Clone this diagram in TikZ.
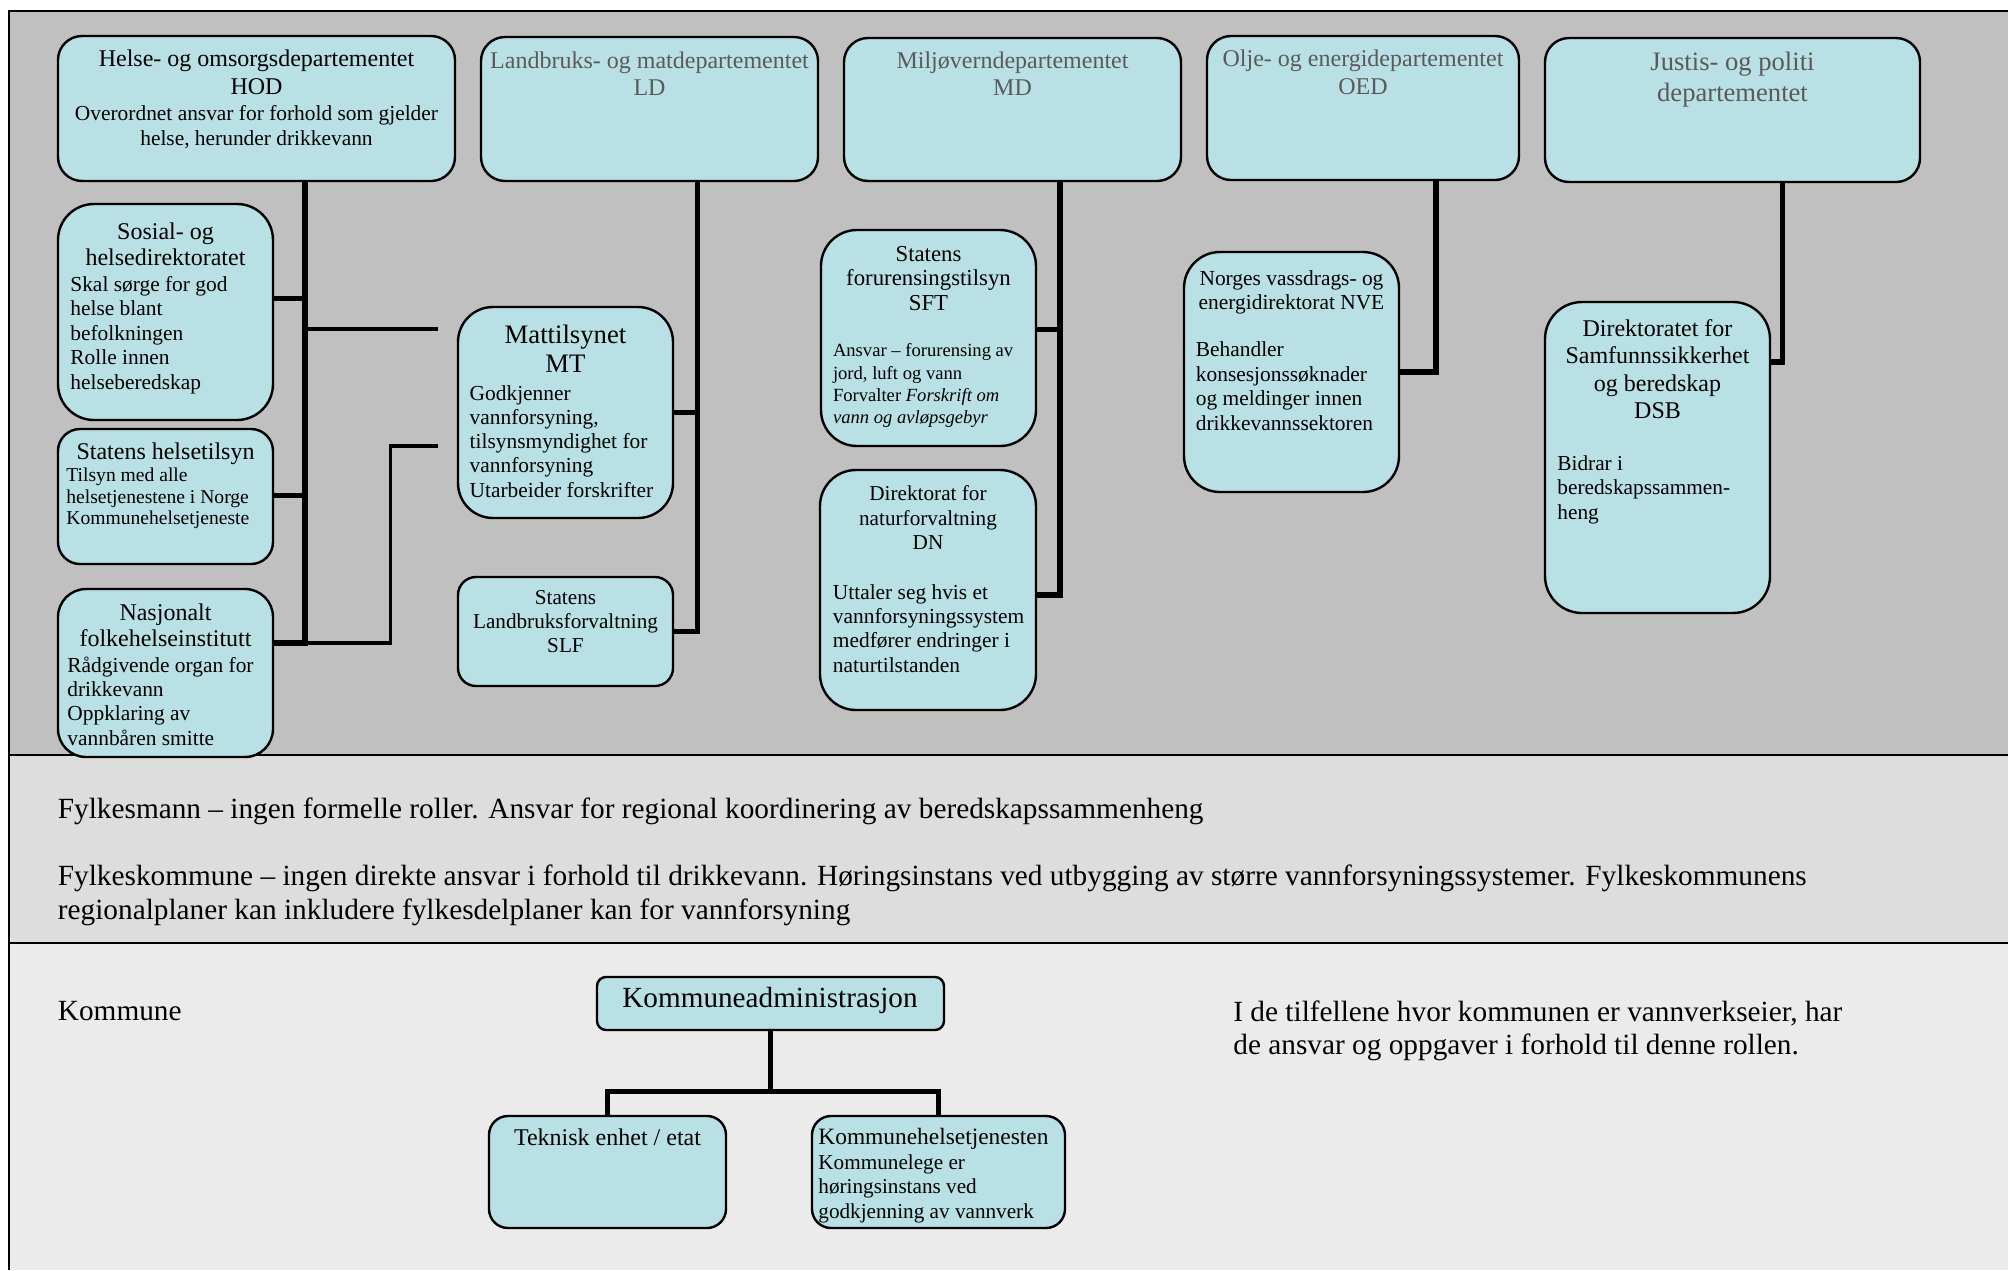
\documentclass[tikz,border=0pt]{standalone}
\usepackage{fontspec}
\setmainfont{Liberation Serif}
\usetikzlibrary{fit}
\definecolor{bandA}{RGB}{192,192,192}
\definecolor{bandB}{RGB}{221,221,221}
\definecolor{bandC}{RGB}{235,235,235}
\definecolor{boxfill}{RGB}{185,224,228}
\definecolor{depgray}{RGB}{90,90,90}
\newcommand\fz[2]{\fontsize{#1}{#2}\selectfont}
\pgfdeclarelayer{bg}
\pgfdeclarelayer{lines}
\pgfsetlayers{bg,lines,main}
\begin{document}
\begin{tikzpicture}[x=0.5pt,y=-0.5pt,
  orgbox/.style={draw=black, line width=1.2pt, fill=boxfill, inner sep=0pt},
  conn/.style={line width=2.75pt, line cap=rect, line join=miter},
  connthin/.style={line width=1.9pt, line join=miter},
  ctext/.style={inner sep=0pt, anchor=base, align=center},
  ltext/.style={inner sep=0pt, anchor=base west, align=left},
  frameline/.style={line width=1.1pt}]
\useasboundingbox (0,0) rectangle (2008,1270);

% boxes
\node[orgbox, rounded corners=12pt, fit={(58,36) (455,181)}] (hod) {};
\node[orgbox, rounded corners=12pt, fit={(481,37) (818,181)}] (ld) {};
\node[orgbox, rounded corners=12pt, fit={(844,38) (1181,181)}] (md) {};
\node[orgbox, rounded corners=12pt, fit={(1207,36) (1519,180)}] (oed) {};
\node[orgbox, rounded corners=12pt, fit={(1545,38) (1920,182)}] (jus) {};
\node[orgbox, rounded corners=18pt, fit={(58,204) (273,420)}] (sos) {};
\node[orgbox, rounded corners=11pt, fit={(58,429) (273,564)}] (htil) {};
\node[orgbox, rounded corners=14pt, fit={(58,589) (273,757)}] (fhi) {};
\node[orgbox, rounded corners=17.5pt, fit={(458,307) (673,518)}] (mt) {};
\node[orgbox, rounded corners=9pt, fit={(458,577) (673,686)}] (slf) {};
\node[orgbox, rounded corners=18pt, fit={(821,230) (1036,446)}] (sft) {};
\node[orgbox, rounded corners=18pt, fit={(820,470) (1036,710)}] (dn) {};
\node[orgbox, rounded corners=18pt, fit={(1184,252) (1399,492)}] (nve) {};
\node[orgbox, rounded corners=18.5pt, fit={(1545,302) (1770,613)}] (dsb) {};
\node[orgbox, rounded corners=4.5pt, fit={(597,977) (944,1030)}] (kadm) {};
\node[orgbox, rounded corners=9.5pt, fit={(489,1116) (726,1228)}] (tek) {};
\node[orgbox, rounded corners=9.5pt, fit={(812,1116) (1065,1228)}] (khel) {};

% bands and frame
\begin{pgfonlayer}{bg}
\fill[bandA] (9,10.7) rectangle (2008,755);
\fill[bandB] (9,755) rectangle (2008,943);
\fill[bandC] (9,943) rectangle (2008,1270);
\draw[frameline] (2008,10.7) -- (9,10.7) -- (9,1270);
\draw[frameline] (9,755) -- (2008,755);
\draw[frameline] (9,943) -- (2008,943);
\end{pgfonlayer}

% connectors
\coordinate (jSos) at (305,298.7);
\coordinate (jHt) at (305,495.5);
\coordinate (jFhi) at (305,643);
\coordinate (jMtA) at (305,329.3);
\coordinate (mtA) at (437.5,329.3);
\coordinate (kink) at (390.5,445.7);
\coordinate (mtB) at (437.5,445.7);
\coordinate (ldx) at (697.5,0);
\coordinate (mdSft) at (1060,329.3);
\coordinate (mdDn) at (1060,595);
\coordinate (oedJ) at (1436,372);
\coordinate (jusJ) at (1782.7,362);
\coordinate (kJ) at (770.5,1091.5);
\begin{pgfonlayer}{lines}
\draw[conn] (hod.south -| jFhi) -- (jFhi) -- (fhi.east |- jFhi);
\draw[conn] (sos.east |- jSos) -- (jSos);
\draw[conn] (htil.east |- jHt) -- (jHt);
\draw[connthin] (jMtA) -- (mtA);
\draw[connthin] (jFhi) -| (kink) -- (mtB);
\draw[conn] (ld.south -| ldx) |- (slf.east);
\draw[conn] (mt.east) -- (mt.east -| ldx);
\draw[conn] (md.south -| mdDn) -- (mdDn) -- (dn.east |- mdDn);
\draw[conn] (sft.east |- mdSft) -- (mdSft);
\draw[conn] (oed.south -| oedJ) -- (oedJ) -- (nve.east |- oedJ);
\draw[conn] (jus.south -| jusJ) -- (jusJ) -- (dsb.east |- jusJ);
\draw[conn] (kadm.south) -- (kJ);
\draw[conn] (tek.north) |- (kJ) -| (khel.north);
\end{pgfonlayer}

% texts (base anchor = baseline of the last line)
\node[ctext, font={\fz{12}{13.65}}] (hodT) at (256.5,94) {Helse- og omsorgsdepartementet\\HOD};
\node[ctext, font={\fz{10.7}{12.65}}] (hodB) at (256.5,145.3) {Overordnet ansvar for forhold som gjelder\\helse, herunder drikkevann};
\node[ctext, font={\fz{12}{13.7}}, text=depgray] (ldT) at (649.5,95.7) {Landbruks- og matdepartementet\\LD};
\node[ctext, font={\fz{12}{13.7}}, text=depgray] (mdT) at (1012.5,95.7) {Miljøverndepartementet\\MD};
\node[ctext, font={\fz{12}{13.7}}, text=depgray] (oedT) at (1363,94.1) {Olje- og energidepartementet\\OED};
\node[ctext, font={\fz{13.3}{15.5}}, text=depgray] (jusT) at (1732.5,101.2) {Justis- og politi\\departementet};

\node[ctext, font={\fz{12}{13.35}}] (sosT) at (165.5,265.7) {Sosial- og\\helsedirektoratet};
\node[ltext, font={\fz{10.7}{12.25}}] (sosB) at (70,389) {Skal sørge for god\\helse blant\\befolkningen\\Rolle innen\\helseberedskap};
\node[ctext, font={\fz{12}{13.35}}] (htT) at (165.5,459.3) {Statens helsetilsyn};
\node[ltext, font={\fz{9.8}{10.65}}] (htB) at (66,524.3) {Tilsyn med alle\\helsetjenestene i Norge\\Kommunehelsetjeneste};
\node[ctext, font={\fz{12}{13.35}}] (fhiT) at (165.5,646.7) {Nasjonalt\\folkehelseinstitutt};
\node[ltext, font={\fz{10.7}{12.05}}] (fhiB) at (67,745) {Rådgivende organ for\\drikkevann\\Oppklaring av\\vannbåren smitte};

\node[ctext, font={\fz{13.35}{14.5}}] (mtT) at (565.5,372.3) {Mattilsynet\\MT};
\node[ltext, font={\fz{10.7}{12.15}}] (mtBody) at (469.3,497.2) {Godkjenner\\vannforsyning,\\tilsynsmyndighet for\\vannforsyning\\Utarbeider forskrifter};
\node[ctext, font={\fz{10.6}{12.15}}] (slfT) at (565.5,652.6) {Statens\\Landbruksforvaltning\\SLF};

\node[ctext, font={\fz{11.4}{12.1}}] (sftT) at (928.5,310.1) {Statens\\forurensingstilsyn\\SFT};
\node[ltext, font={\fz{9.3}{11.2}}] (sftB) at (832.6,423.9) {Ansvar – forurensing av\\jord, luft og vann\\Forvalter \textit{Forskrift om}\\\textit{vann og avløpsgebyr}};
\node[ctext, font={\fz{10.6}{12.15}}] (dnT) at (928,549.3) {Direktorat for\\naturforvaltning\\DN};
\node[ltext, font={\fz{10.7}{12.2}}] (dnB) at (832.5,672.2) {Uttaler seg hvis et\\vannforsyningssystem\\medfører endringer i\\naturtilstanden};

\node[ctext, font={\fz{10.7}{12}}] (nveT) at (1291.5,309) {Norges vassdrags- og\\energidirektorat NVE};
\node[ltext, font={\fz{10.7}{12.3}}] (nveB) at (1195.5,430.5) {Behandler\\konsesjonssøknader\\og meldinger innen\\drikkevannssektoren};

\node[ctext, font={\fz{12}{13.6}}] (dsbT) at (1657.5,418.2) {Direktoratet for\\Samfunnssikkerhet\\og beredskap\\DSB};
\node[ltext, font={\fz{10.65}{12.15}}] (dsbB) at (1557,519) {Bidrar i\\beredskapssammen-\\heng};

\node[ltext, font={\fz{14.65}{16.85}}] (fylk1) at (57.5,818.4) {Fylkesmann – ingen formelle roller. Ansvar for regional koordinering av beredskapssammenheng};
\node[ltext, font={\fz{14.65}{16.85}}] (fylk2) at (57.5,919) {Fylkeskommune – ingen direkte ansvar i forhold til drikkevann. Høringsinstans ved utbygging av større vannforsyningssystemer. Fylkeskommunens\\regionalplaner kan inkludere fylkesdelplaner kan for vannforsyning};

\node[ltext, font={\fz{14.65}{16.85}}] (komm) at (57.5,1020) {Kommune};
\node[ltext, font={\fz{14.65}{16.65}}] (rtext) at (1233,1054.3) {I de tilfellene hvor kommunen er vannverkseier, har\\de ansvar og oppgaver i forhold til denne rollen.};
\node[ctext, font={\fz{14.6}{16.8}}] (kadmT) at (770,1007) {Kommuneadministrasjon};
\node[ctext, font={\fz{12}{13.8}}] (tekT) at (607.5,1145.6) {Teknisk enhet / etat};
\node[ltext, font={\fz{11.7}{13.5}}] (khelT) at (818,1144) {Kommunehelsetjenesten};
\node[ltext, font={\fz{10.6}{12.3}}] (khelB) at (818,1218.2) {Kommunelege er\\høringsinstans ved\\godkjenning av vannverk};
\end{tikzpicture}
\end{document}
